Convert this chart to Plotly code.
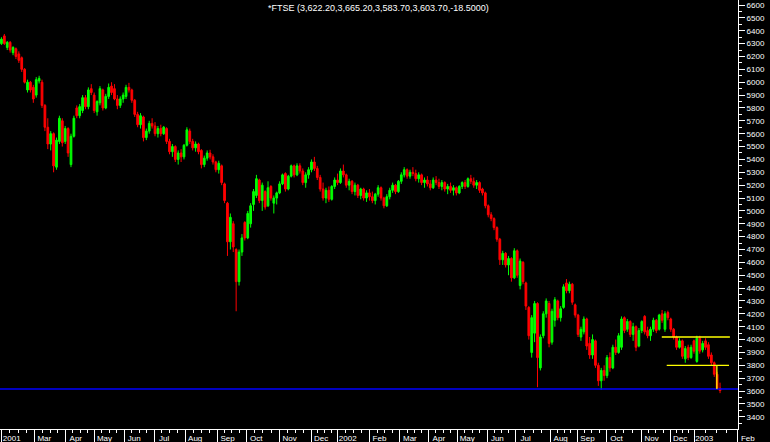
import plotly.graph_objects as go

# ---------------- data (2-trading-day bars, FTSE 100, Jan 2001 - Jan 2003) ----------------
opens = [
6300,6360,6270,6310,6230,6260,6220,6190,6100,5940,6000,5960,5900,6010,6000,5820,5650,5520,5600,5340,
5540,5700,5540,5640,5360,5580,5800,5740,5780,5880,5810,5950,5900,5770,5840,5940,5800,5890,5970,5950,
5870,5820,5870,5890,5960,5940,5860,5750,5670,5730,5570,5620,5680,5660,5600,5640,5600,5640,5540,5460,
5500,5400,5450,5420,5510,5620,5540,5490,5520,5470,5360,5410,5450,5420,5380,5320,5350,5210,5060,4760,
4900,4700,4450,4680,4910,4790,4900,5050,5120,5240,5080,5150,5040,5190,5060,5100,5140,5210,5290,5170,
5270,5350,5280,5350,5310,5220,5280,5320,5380,5330,5260,5170,5100,5160,5090,5190,5240,5220,5310,5280,
5200,5230,5150,5200,5120,5170,5100,5140,5110,5080,5130,5180,5100,5040,5110,5160,5200,5150,5230,5280,
5320,5270,5300,5290,5250,5280,5220,5240,5210,5180,5240,5220,5190,5220,5170,5190,5160,5180,5140,5190,
5220,5190,5250,5230,5200,5220,5170,5140,5040,4970,4940,4870,4780,4620,4670,4580,4630,4480,4690,4420,
4600,4440,4250,3900,4050,4280,3780,4030,4200,4280,3980,4150,4300,4170,4250,4440,4380,4430,4270,4190,
4020,4060,4160,3970,3880,3990,3800,3680,3760,3720,3860,3780,3940,3900,3940,4170,4080,4140,4040,4100,
3950,4070,4180,4070,4030,4080,4150,4080,4200,4080,4210,4160,4080,4020,3940,3990,3850,3940,3860,3990,
3830,4010,3920,3990,3960,3880,3820,3730,3622.2]
highs = [
6350,6375,6320,6320,6280,6270,6240,6200,6110,6020,6010,5980,6040,6050,6020,5830,5720,5620,5610,5570,
5740,5720,5660,5650,5600,5740,5820,5830,5900,5900,5960,5985,5920,5860,5970,5950,5910,5990,6000,5985,
5900,5890,5920,5980,5995,5950,5870,5770,5760,5740,5640,5700,5720,5690,5660,5670,5660,5650,5560,5520,
5510,5470,5480,5520,5650,5640,5560,5540,5530,5480,5430,5470,5475,5440,5390,5390,5360,5220,5070,4980,
4920,4710,4700,4820,4920,5000,5060,5170,5280,5250,5220,5160,5230,5200,5120,5150,5230,5290,5300,5280,
5360,5360,5370,5370,5330,5300,5340,5400,5420,5350,5280,5220,5180,5190,5200,5260,5290,5330,5360,5290,
5250,5240,5220,5210,5180,5180,5160,5170,5150,5140,5200,5190,5110,5130,5180,5220,5210,5240,5300,5340,
5330,5320,5340,5320,5300,5290,5260,5270,5240,5260,5270,5250,5240,5230,5210,5220,5200,5190,5200,5230,
5240,5260,5280,5260,5240,5230,5180,5150,5050,4990,4950,4880,4790,4690,4680,4650,4640,4710,4700,4630,
4610,4450,4260,4190,4300,4290,4040,4220,4320,4300,4240,4330,4310,4260,4430,4470,4450,4440,4280,4200,
4100,4180,4170,4020,4040,4000,3820,3780,3800,3880,3900,3960,4000,4050,4180,4180,4160,4150,4130,4110,
4090,4150,4190,4100,4100,4170,4160,4200,4230,4220,4225,4170,4090,4030,4010,4000,3950,3960,3960,4000,
4030,4030,3990,4010,3980,3900,3830,3750,3665.2]
lows = [
6290,6290,6250,6230,6210,6180,6150,6080,5990,5920,5920,5840,5880,5990,5800,5620,5480,5470,5300,5320,
5520,5500,5520,5420,5340,5570,5720,5720,5760,5790,5790,5900,5760,5740,5820,5780,5790,5870,5900,5860,
5790,5800,5840,5870,5920,5840,5730,5650,5640,5540,5550,5600,5640,5580,5570,5580,5590,5520,5440,5420,
5380,5360,5380,5400,5500,5520,5470,5460,5440,5330,5340,5390,5400,5360,5300,5290,5200,5060,4650,4700,
4680,4220,4420,4650,4770,4780,4870,5000,5100,5060,5000,5010,5030,5080,4980,5050,5130,5200,5150,5160,
5260,5260,5270,5290,5200,5180,5250,5300,5310,5240,5150,5080,5060,5070,5080,5170,5200,5210,5260,5180,
5160,5130,5120,5100,5090,5080,5070,5080,5060,5050,5110,5080,5020,5030,5090,5140,5130,5140,5210,5260,
5250,5250,5270,5230,5220,5200,5180,5190,5160,5170,5200,5170,5160,5150,5130,5140,5120,5120,5130,5170,
5170,5180,5210,5180,5170,5140,5120,5020,4950,4920,4850,4760,4580,4580,4560,4500,4450,4470,4480,4390,
4430,4230,4000,3860,3980,3630,3760,4010,4170,3940,3960,4100,4150,4140,4240,4360,4360,4270,4170,4020,
3990,4040,3920,3850,3850,3780,3640,3610,3680,3700,3750,3770,3880,3890,3920,4050,4060,4020,3990,3910,
3940,4050,4040,4010,3990,4060,4050,4070,4130,4060,4150,4060,4000,3920,3930,3850,3820,3840,3850,3890,
3820,3890,3900,3920,3850,3800,3710,3610,3583.7]
closes = [
6335,6300,6310,6250,6270,6200,6170,6100,6000,6000,5940,5870,6020,6030,5820,5650,5520,5600,5350,5550,
5720,5530,5640,5450,5580,5720,5740,5810,5880,5810,5940,5920,5780,5850,5950,5800,5890,5960,5920,5870,
5820,5870,5900,5960,5940,5860,5750,5670,5740,5570,5620,5680,5660,5600,5640,5600,5650,5540,5460,5500,
5400,5450,5420,5510,5630,5540,5490,5520,5460,5360,5410,5450,5420,5380,5320,5370,5220,5080,4760,4950,
4720,4450,4680,4790,4790,4980,5040,5150,5250,5080,5200,5030,5180,5100,5100,5140,5210,5280,5170,5270,
5350,5280,5350,5310,5220,5280,5320,5380,5330,5260,5170,5100,5160,5090,5190,5240,5220,5310,5280,5200,
5230,5150,5200,5120,5170,5100,5140,5110,5080,5130,5180,5100,5040,5110,5160,5200,5150,5230,5280,5320,
5270,5300,5290,5250,5280,5220,5240,5210,5180,5240,5220,5190,5220,5170,5190,5160,5180,5140,5190,5220,
5190,5250,5230,5200,5220,5160,5140,5040,4970,4940,4870,4780,4620,4670,4580,4630,4480,4690,4500,4610,
4450,4260,4030,4170,4280,3860,4020,4200,4300,3970,4220,4310,4170,4240,4410,4380,4430,4290,4190,4040,
4080,4160,3950,3880,4000,3800,3680,3760,3720,3860,3780,3940,3900,4030,4160,4070,4140,4040,4100,3940,
4070,4140,4060,4030,4080,4150,4070,4190,4150,4200,4170,4080,4020,3940,3990,3870,3930,3860,3940,3910,
4010,3910,3970,3940,3870,3820,3730,3622.2,3603.7]

# month labels and their bar positions
tick_labels = ["2001", "Mar", "Apr", "May", "Jun", "Jul", "Aug", "Sep", "Oct", "Nov", "Dec",
               "2002", "Feb", "Mar", "Apr", "May", "Jun", "Jul", "Aug", "Sep", "Oct", "Nov", "Dec", "2003", "Feb"]
tick_pos = [0.1, 11.35, 22.2, 32.1, 42.35, 52.7, 63.4, 74.6, 84.5, 96.0, 106.9,
            116.05, 127.0, 137.5, 147.5, 157.3, 167.7, 177.45, 189.55, 198.8, 208.8, 220.9, 230.8, 239.1, 254.15]

# support / resistance lines drawn on the chart (level, start bar, end bar)
support_level = 3615
support_span = [-0.5, 254.2]
upper_level = 4020
upper_span = [227.9, 251.4]
lower_level = 3800
lower_span = [229.6, 251.1]
drop_bar = 246.9

title_text = "*FTSE (3,622.20,3,665.20,3,583.70,3,603.70,-18.5000)"

# ---------------- figure ----------------
idx = list(range(len(closes)))

minor_pos = []
for a, b in zip(tick_pos[:-1], tick_pos[1:]):
    for q in (0.25, 0.5, 0.75):
        minor_pos.append(a + (b - a) * q)

fig = go.Figure()
fig.add_trace(go.Candlestick(
    x=idx, open=opens, high=highs, low=lows, close=closes,
    increasing=dict(line=dict(color="#00FF00", width=1), fillcolor="#00FF00"),
    decreasing=dict(line=dict(color="#FF0000", width=1), fillcolor="#FF0000"),
    whiskerwidth=0, showlegend=False, hoverinfo="skip"))

fig.add_trace(go.Scatter(x=support_span, y=[support_level, support_level], mode="lines",
                         line=dict(color="#0000FF", width=1.5), showlegend=False, hoverinfo="skip"))
fig.add_trace(go.Scatter(x=upper_span, y=[upper_level, upper_level], mode="lines",
                         line=dict(color="#FFFF00", width=1.3), showlegend=False, hoverinfo="skip"))
fig.add_trace(go.Scatter(x=lower_span, y=[lower_level, lower_level], mode="lines",
                         line=dict(color="#FFFF00", width=1.3), showlegend=False, hoverinfo="skip"))
fig.add_trace(go.Scatter(x=[drop_bar, drop_bar], y=[lower_level, support_level], mode="lines",
                         line=dict(color="#FFFF00", width=1.3), showlegend=False, hoverinfo="skip"))

font_small = dict(family="Arial, Liberation Sans, sans-serif", size=8, color="white")

fig.update_layout(
    width=770, height=442,
    margin=dict(l=0, r=32, t=0, b=13),
    paper_bgcolor="black", plot_bgcolor="black",
    showlegend=False,
    boxgap=0.15,
    xaxis=dict(
        range=[-0.5, 254.2], rangeslider=dict(visible=False),
        tickmode="array", tickvals=tick_pos, ticktext=tick_labels,
        ticks="outside", ticklen=12, tickwidth=1, tickcolor="white",
        ticklabelstandoff=-11, ticklabelshift=10,
        minor=dict(tickvals=minor_pos, ticks="outside", ticklen=3, tickcolor="white", tickwidth=1),
        showline=True, linecolor="white", linewidth=1,
        showgrid=False, zeroline=False, tickfont=font_small,
    ),
    yaxis=dict(
        side="right", range=[3305, 6639],
        tickmode="linear", tick0=0, dtick=100,
        ticks="outside", ticklen=6, tickwidth=1, tickcolor="white",
        minor=dict(dtick=50, tick0=0, ticks="outside", ticklen=3, tickcolor="white", tickwidth=1),
        showline=True, linecolor="white", linewidth=1,
        showgrid=False, zeroline=False, tickfont=font_small,
    ),
    annotations=[dict(text=title_text, xref="paper", yref="paper", x=0.513, y=1.0,
                      xanchor="center", yanchor="top", yshift=-1, showarrow=False,
                      font=dict(family="Arial, Liberation Sans, sans-serif", size=9, color="white"))],
)

fig.write_html("out.html", config={"displayModeBar": False, "staticPlot": True},
               post_script="document.body.style.margin='0';document.body.style.background='black';")
